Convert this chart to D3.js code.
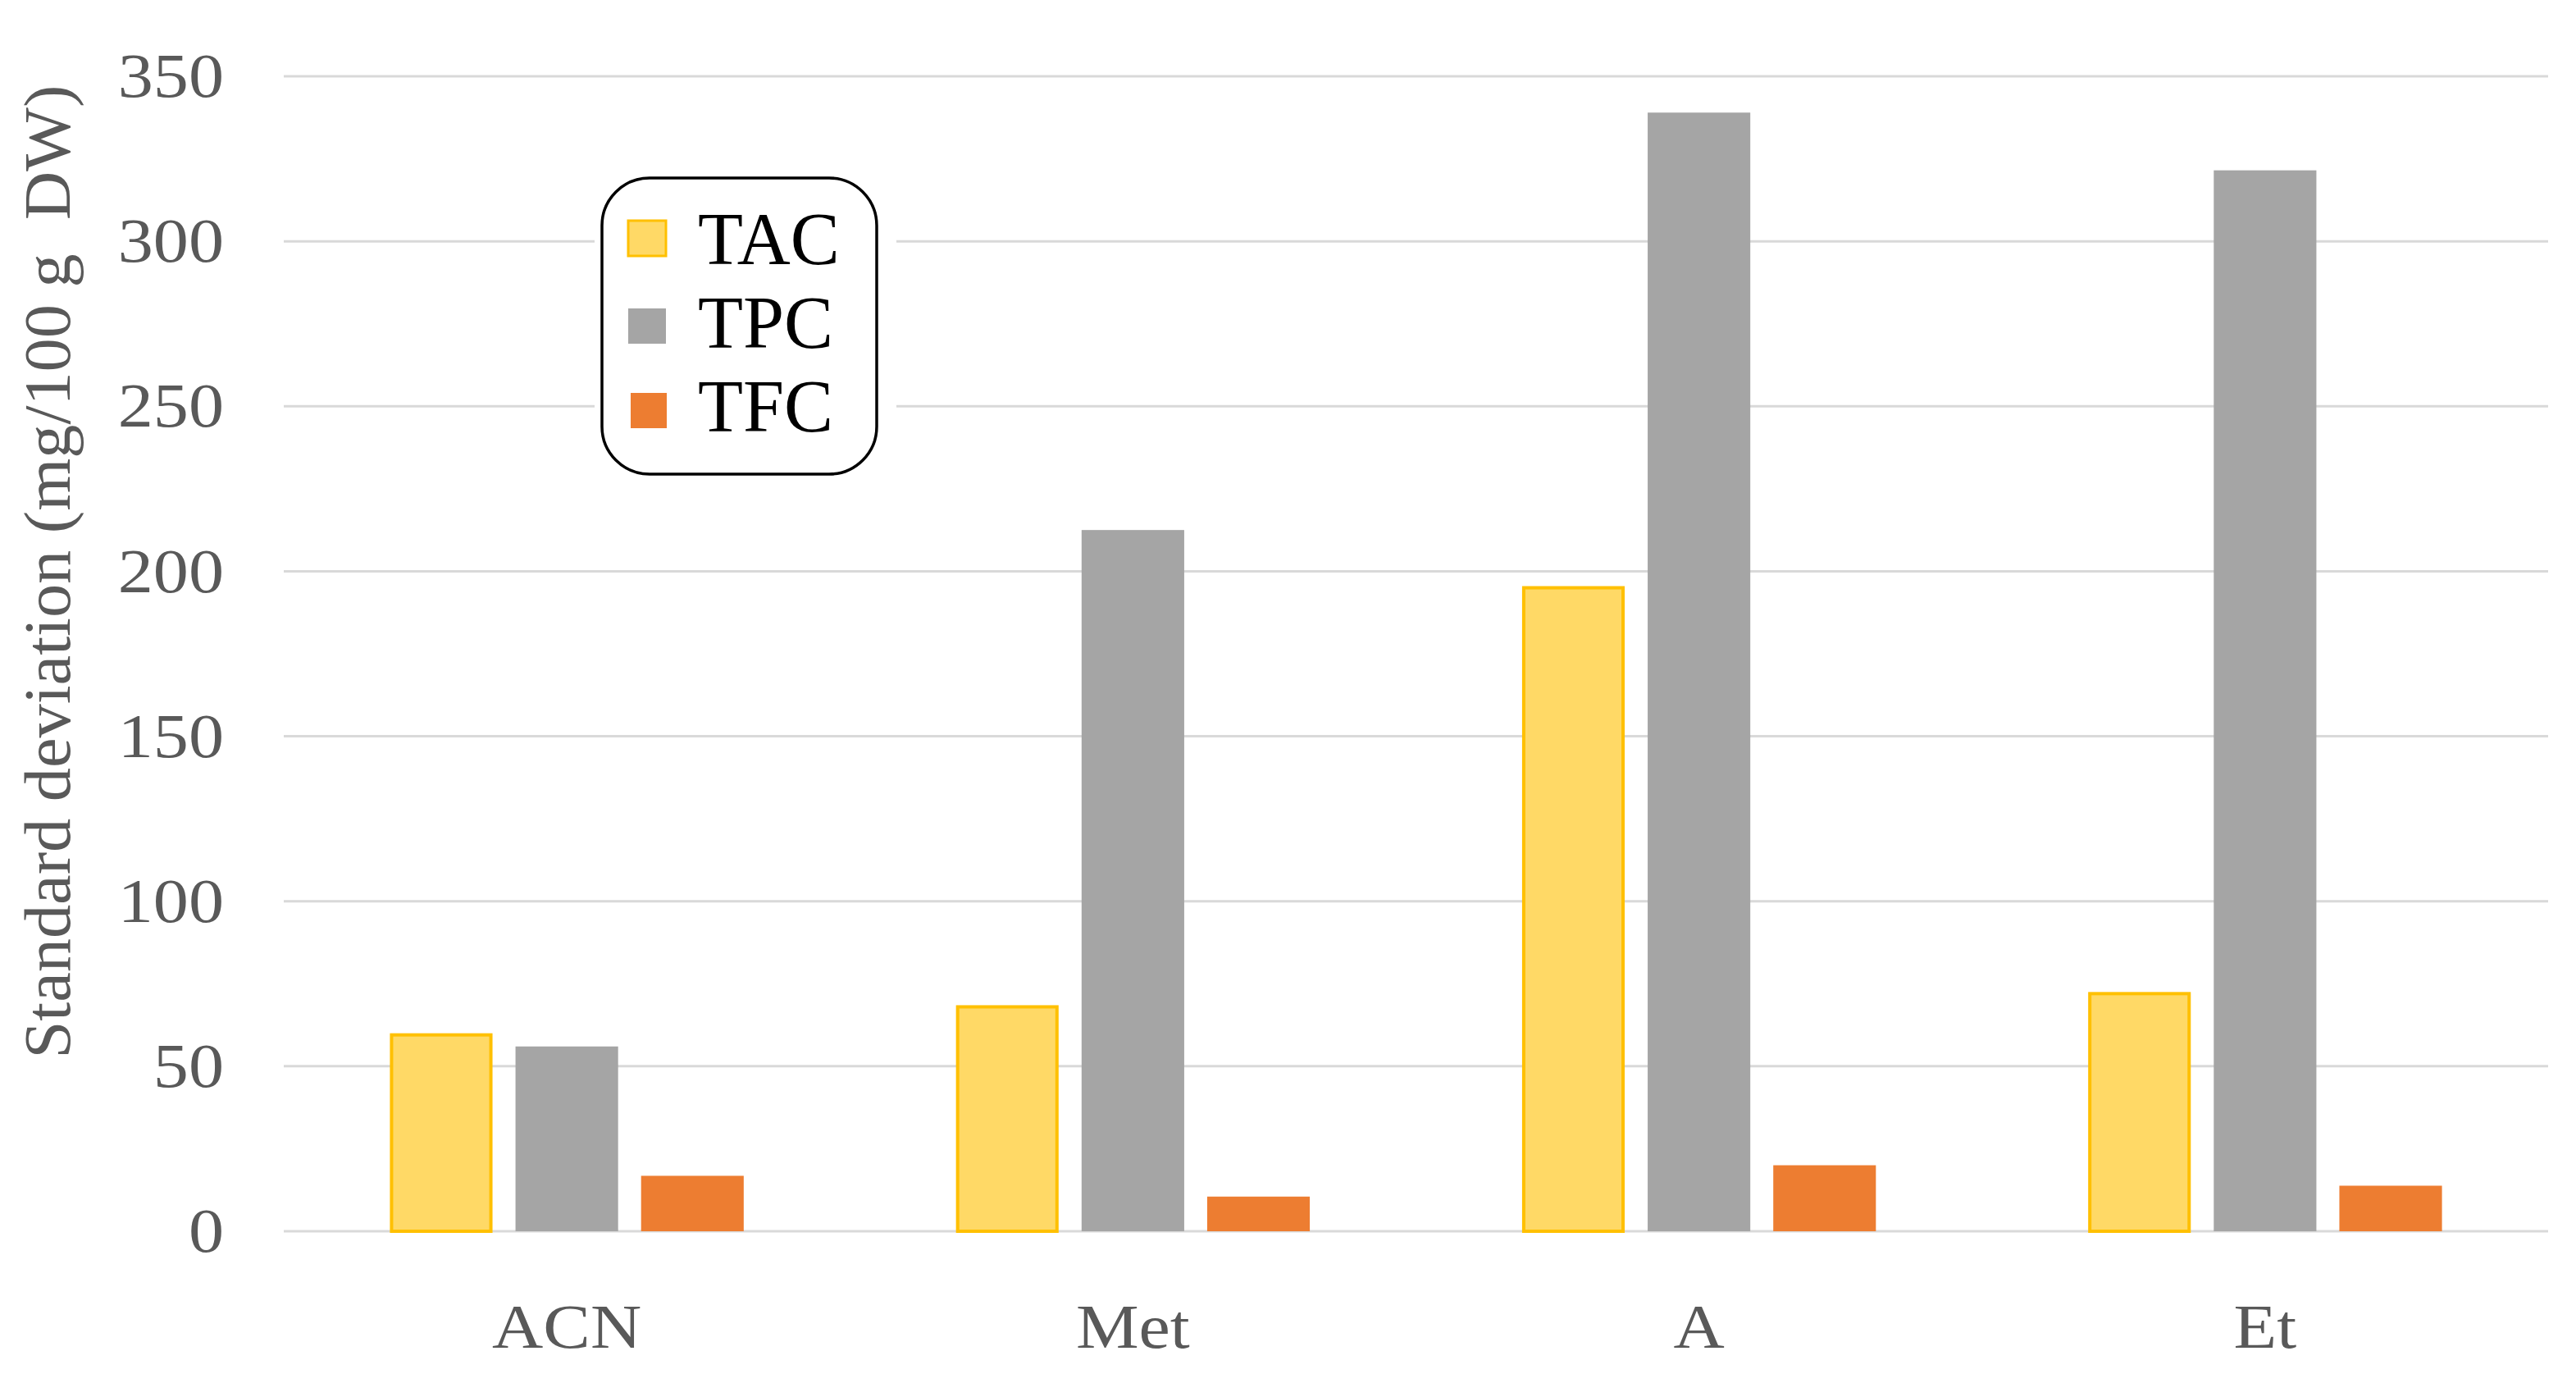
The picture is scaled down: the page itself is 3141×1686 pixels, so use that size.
<!DOCTYPE html>
<html>
<head>
<meta charset="utf-8">
<script src="https://cdn.jsdelivr.net/npm/d3@7"></script>
<style>
  body { margin: 0; background: #fff; }
  svg { display: block; }
</style>
</head>
<body>
<div id="chart"></div>
<script>
var categories = ["ACN", "Met", "A", "Et"];
var series = ["TAC", "TPC", "TFC"];
var tacValues = [60, 68.5, 195.5, 72.5];
var tpcValues = [56, 212.5, 339, 321.5];
var tfcValues = [16.8, 10.5, 20, 13.8];
var yTicks = [0, 50, 100, 150, 200, 250, 300, 350];
var yTitle = "Standard deviation (mg/100 g  DW)";

var seriesValues = { TAC: tacValues, TPC: tpcValues, TFC: tfcValues };
var fills = { TAC: "#FFD966", TPC: "#A5A5A5", TFC: "#ED7D31" };
var strokes = { TAC: "#FFC000", TPC: "none", TFC: "none" };

var W = 3141, H = 1686;
var plotLeft = 346, plotRight = 3107, plotTop = 93, plotBottom = 1501;
var font = "'Liberation Serif', 'Times New Roman', serif";
var stretch = 1.12;

var svg = d3.select("#chart").append("svg")
    .attr("width", W)
    .attr("height", H);

var x0 = d3.scaleBand()
    .domain(categories)
    .range([plotLeft, plotRight])
    .paddingInner(0.375)
    .paddingOuter(0.1875);

var x1 = d3.scaleBand()
    .domain(series)
    .range([0, x0.bandwidth()])
    .paddingInner(0.183);

var y = d3.scaleLinear()
    .domain([0, 350])
    .range([plotBottom, plotTop]);

// gridlines
svg.append("g")
    .selectAll("line")
    .data(yTicks)
    .enter()
    .append("line")
    .attr("x1", plotLeft)
    .attr("x2", plotRight)
    .attr("y1", d => y(d))
    .attr("y2", d => y(d))
    .attr("stroke", "#D9D9D9")
    .attr("stroke-width", 3);

// y axis labels
var yAxis = svg.append("g")
    .attr("transform", "translate(" + plotLeft + ",0)")
    .call(d3.axisLeft(y).tickValues(yTicks).tickSize(0).tickPadding(0));
yAxis.select(".domain").remove();
yAxis.selectAll("text")
    .attr("x", -73 / stretch)
    .attr("dy", "0.32em")
    .attr("transform", "scale(" + stretch + ",1)")
    .style("font-family", font)
    .style("font-size", "77px")
    .attr("fill", "#595959");

// x axis labels
var xAxis = svg.append("g")
    .attr("transform", "translate(0," + plotBottom + ")")
    .call(d3.axisBottom(x0).tickSize(0).tickPadding(0));
xAxis.select(".domain").remove();
xAxis.selectAll(".tick").each(function (d) {
    var cx = x0(d) + x0.bandwidth() / 2;
    d3.select(this).attr("transform", "translate(" + cx + ",0) scale(" + stretch + ",1)");
});
xAxis.selectAll("text")
    .attr("y", 142)
    .attr("dy", 0)
    .style("font-family", font)
    .style("font-size", "77px")
    .attr("fill", "#595959");

// bars
var groups = svg.append("g")
    .selectAll("g")
    .data(categories)
    .enter()
    .append("g")
    .attr("transform", d => "translate(" + x0(d) + ",0)");

groups.selectAll("rect")
    .data((d, i) => series.map(s => ({ key: s, value: seriesValues[s][i] })))
    .enter()
    .append("rect")
    .attr("x", d => x1(d.key) + (d.key == "TAC" ? 2 : 0))
    .attr("y", d => y(d.value) + (d.key == "TAC" ? 2 : 0))
    .attr("width", d => x1.bandwidth() - (d.key == "TAC" ? 4 : 0))
    .attr("height", d => plotBottom - y(d.value) - (d.key == "TAC" ? 2 : 0))
    .attr("fill", d => fills[d.key])
    .attr("stroke", d => strokes[d.key])
    .attr("stroke-width", 4);

// y title
svg.append("text")
    .attr("transform", "translate(85,697) rotate(-90)")
    .attr("text-anchor", "middle")
    .attr("textLength", 1187)
    .attr("lengthAdjust", "spacingAndGlyphs")
    .style("white-space", "pre")
    .style("font-family", font)
    .style("font-size", "80px")
    .attr("fill", "#595959")
    .text(yTitle);

// legend
var legend = svg.append("g");
legend.append("rect")
    .attr("x", 725)
    .attr("y", 205)
    .attr("width", 368)
    .attr("height", 385)
    .attr("fill", "#fff");
legend.append("rect")
    .attr("x", 734)
    .attr("y", 217)
    .attr("width", 335)
    .attr("height", 361)
    .attr("rx", 58)
    .attr("ry", 58)
    .attr("fill", "#fff")
    .attr("stroke", "#000")
    .attr("stroke-width", 3.5);

var legendRows = [290, 397, 500];
legend.selectAll(".sw")
    .data(series)
    .enter()
    .append("rect")
    .attr("x", (d, i) => i == 2 ? 769 : 766)
    .attr("y", (d, i) => legendRows[i] - 21)
    .attr("width", (d, i) => i == 2 ? 44 : 46)
    .attr("height", 43)
    .attr("fill", d => fills[d])
    .attr("stroke", d => strokes[d])
    .attr("stroke-width", 3);

legend.selectAll(".lt")
    .data(series)
    .enter()
    .append("text")
    .attr("x", 851)
    .attr("y", (d, i) => [322, 424, 526][i])
    .style("font-family", font)
    .style("font-size", "90px")
    .attr("fill", "#000")
    .text(d => d);
</script>
</body>
</html>
